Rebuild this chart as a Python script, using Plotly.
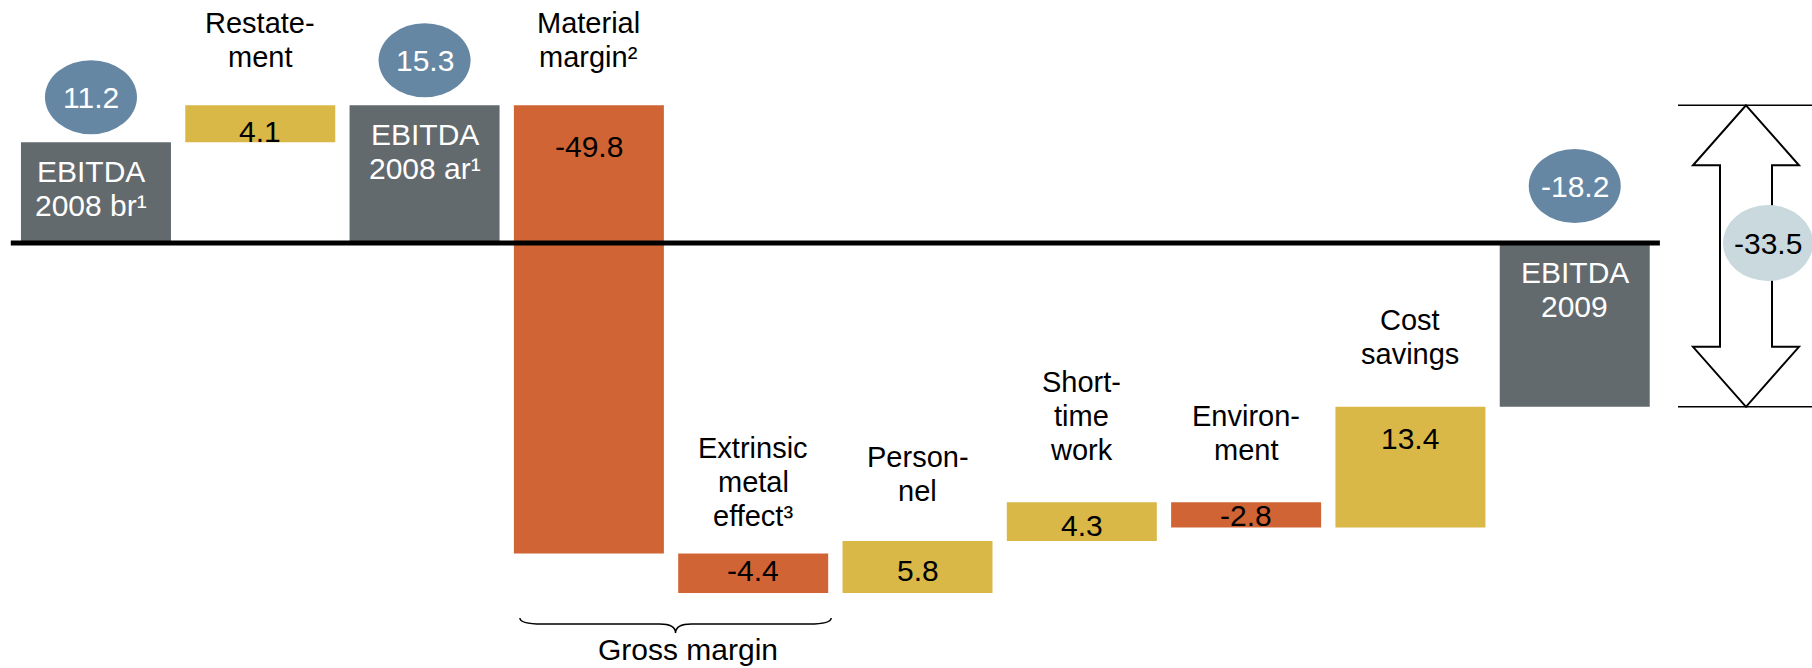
import plotly.graph_objects as go

# ---------------- data ----------------
categories = [
    "EBITDA<br>2008 br¹", "Restate-<br>ment", "EBITDA<br>2008 ar¹",
    "Material<br>margin²", "Extrinsic<br>metal<br>effect³", "Person-<br>nel",
    "Short-<br>time<br>work", "Environ-<br>ment", "Cost<br>savings", "EBITDA<br>2009",
]
values = [11.2, 4.1, 15.3, -49.8, -4.4, 5.8, 4.3, -2.8, 13.4, -18.2]
measures = ["absolute", "relative", "total", "relative", "relative",
            "relative", "relative", "relative", "relative", "total"]
bracket_label = "Gross margin"
bracket_span = [3, 4]          # bars grouped under the brace
delta_from, delta_to = 2, 9    # change shown by the double arrow

# ---------------- layout / styles ----------------
W, H = 1812, 668
X_RANGE = [-0.584, 10.444]
Y_RANGE = [-47.22, 27.0]
XPX = W / (X_RANGE[1] - X_RANGE[0])   # pixels per x unit
YPX = H / (Y_RANGE[1] - Y_RANGE[0])   # pixels per y unit
BAR_W = 150 / XPX

FONT = "Liberation Sans, Arial, sans-serif"
F_CAT, F_NUM = 29, 30
C_UP, C_DOWN, C_TOTAL = "#D9B847", "#D16434", "#636A6E"
C_BUBBLE, C_DELTA = "#6687A3", "#C9D9DE"
MID = 0.3465   # bbox centre above baseline, in em

label_gap = [None, 38, None, 38, 27, 40, 42, 42, 43, None]   # px from bar top to last baseline
value_drop = [None, 26, None, 41, 17, 30, 23, 13, 32, None]  # px from bar top to value centre
bubble_lift = {0: 45, 2: 45, 9: 57}                          # px from bar top to bubble centre
total_nudge = {0: -5}                                        # px horizontal nudge of total labels
LINE_STEP = 34


def x_of(px):
    return X_RANGE[0] + px / XPX


def y_of(py):
    return Y_RANGE[1] - py / YPX


def px_of_y(y):
    return (Y_RANGE[1] - y) * YPX


def px_of_x(x):
    return (x - X_RANGE[0]) * XPX


# bar extents and running totals
lows, highs, running = [], [], []
run = 0.0
for v, m in zip(values, measures):
    if m == "absolute":
        run = v
        lo, hi = min(0, v), max(0, v)
    elif m == "total":
        lo, hi = min(0, run), max(0, run)
    else:
        lo, hi = min(run, run + v), max(run, run + v)
        run += v
    lows.append(lo)
    highs.append(hi)
    running.append(run)

xs = list(range(len(values)))

fig = go.Figure(go.Waterfall(
    x=xs, y=values, measure=measures, width=BAR_W,
    increasing=dict(marker=dict(color=C_UP, line=dict(width=0))),
    decreasing=dict(marker=dict(color=C_DOWN, line=dict(width=0))),
    totals=dict(marker=dict(color=C_TOTAL, line=dict(width=0))),
    connector=dict(visible=False),
    hoverinfo="skip",
))

shapes, annotations = [], []

# category labels and value labels
for i, (lab, m, v) in enumerate(zip(categories, measures, values)):
    lines = lab.split("<br>")
    if m == "relative":
        for k, line in enumerate(reversed(lines)):
            annotations.append(dict(
                x=i, y=highs[i], text=line, showarrow=False, yanchor="middle",
                yshift=label_gap[i] + MID * F_CAT + LINE_STEP * k,
                font=dict(family=FONT, size=F_CAT, color="black")))
        annotations.append(dict(
            x=i, y=highs[i], text=f"{v:.1f}", showarrow=False, yanchor="middle",
            yshift=-value_drop[i], font=dict(family=FONT, size=F_NUM, color="black")))
    else:
        for k, line in enumerate(lines):
            annotations.append(dict(
                x=i, y=highs[i], text=line, showarrow=False, yanchor="middle",
                xshift=total_nudge.get(i, 0),
                yshift=-(40 + LINE_STEP * k - MID * F_NUM),
                font=dict(family=FONT, size=F_NUM, color="white")))

# zero line
pad = 3 / XPX
shapes.append(dict(type="line", xref="x", yref="y",
                   x0=-0.5 - pad, x1=len(values) - 0.5 + pad, y0=0, y1=0,
                   line=dict(color="black", width=5), layer="above"))

# value bubbles on the total bars
for i, lift in bubble_lift.items():
    cy = px_of_y(highs[i]) - lift
    cx = px_of_x(i) + total_nudge.get(i, 0)
    shapes.append(dict(type="circle", xref="x", yref="y",
                       x0=x_of(cx - 46), x1=x_of(cx + 46),
                       y0=y_of(cy + 37), y1=y_of(cy - 37),
                       fillcolor=C_BUBBLE, line=dict(width=0), layer="above"))
    annotations.append(dict(x=x_of(cx), y=y_of(cy), text=f"{running[i]:.1f}", showarrow=False,
                            yanchor="middle", font=dict(family=FONT, size=F_NUM, color="white")))

# double arrow between the two EBITDA levels
top_y, bot_y = running[delta_from], running[delta_to]
ax = 1746
hw, sw, hh = 53, 26, 60
tpx, bpx = px_of_y(top_y), px_of_y(bot_y)
pts = [(ax, tpx), (ax + hw, tpx + hh), (ax + sw, tpx + hh), (ax + sw, bpx - hh),
       (ax + hw, bpx - hh), (ax, bpx), (ax - hw, bpx - hh), (ax - sw, bpx - hh),
       (ax - sw, tpx + hh), (ax - hw, tpx + hh)]
path = "M " + " L ".join(f"{x_of(px):.4f},{y_of(py):.4f}" for px, py in pts) + " Z"
for yy in (top_y, bot_y):
    shapes.append(dict(type="line", xref="x", yref="y", x0=x_of(1678), x1=x_of(W + 5),
                       y0=yy, y1=yy, line=dict(color="black", width=1.5), layer="above"))
shapes.append(dict(type="path", xref="x", yref="y", path=path, fillcolor="white",
                   line=dict(color="black", width=2), layer="above"))

delta = running[delta_to] - running[delta_from]
dcx, dcy = 1768, px_of_y(0)
shapes.append(dict(type="circle", xref="x", yref="y",
                   x0=x_of(dcx - 45), x1=x_of(dcx + 45),
                   y0=y_of(dcy + 38), y1=y_of(dcy - 38),
                   fillcolor=C_DELTA, line=dict(width=0), layer="above"))
annotations.append(dict(x=x_of(dcx), y=y_of(dcy), text=f"{delta:.1f}", showarrow=False,
                        yanchor="middle", font=dict(family=FONT, size=F_NUM, color="black")))

# brace under the gross-margin bars
a, b = bracket_span
L = px_of_x(a - BAR_W / 2) + 6
R = px_of_x(b + BAR_W / 2) + 3
M = (L + R) / 2
base = max(px_of_y(lows[a]), px_of_y(lows[b]))
yT, yH, yP = base + 25, base + 31, base + 40
bp = [("M", [(L, yT)]), ("Q", [(L, yH), (L + 22, yH)]), ("L", [(M - 16, yH)]),
      ("Q", [(M, yH), (M, yP)]), ("Q", [(M, yH), (M + 16, yH)]), ("L", [(R - 22, yH)]),
      ("Q", [(R, yH), (R, yT)])]
brace = " ".join(cmd + " " + " ".join(f"{x_of(px):.4f},{y_of(py):.4f}" for px, py in p)
                 for cmd, p in bp)
shapes.append(dict(type="path", xref="x", yref="y", path=brace,
                   line=dict(color="black", width=1.5), layer="above"))
annotations.append(dict(x=x_of(M + 12), y=y_of(base + 56), text=bracket_label, showarrow=False,
                        yanchor="middle", font=dict(family=FONT, size=F_NUM, color="black")))

fig.update_layout(
    width=W, height=H, margin=dict(l=0, r=0, t=0, b=0),
    paper_bgcolor="white", plot_bgcolor="white", showlegend=False,
    xaxis=dict(range=X_RANGE, visible=False, fixedrange=True),
    yaxis=dict(range=Y_RANGE, visible=False, fixedrange=True),
    shapes=shapes, annotations=annotations,
)

fig.write_html("out.html")
